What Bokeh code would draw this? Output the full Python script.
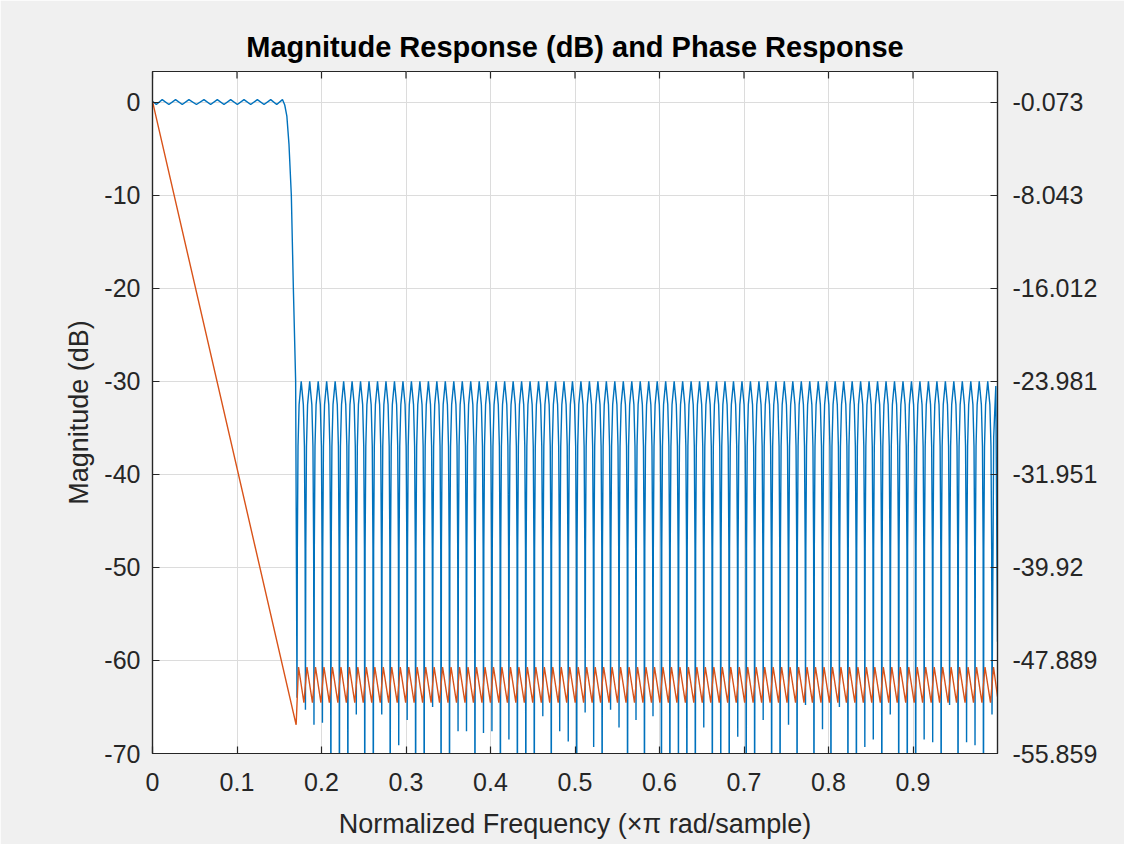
import math
from bokeh.plotting import figure
from bokeh.models import Range1d, LinearAxis, FixedTicker
from bokeh.embed import file_html
from bokeh.resources import INLINE

# ---------------- data ----------------
X_TICKS = [0.0, 0.1, 0.2, 0.3, 0.4, 0.5, 0.6, 0.7, 0.8, 0.9]
X_TICK_LABELS = ["0", "0.1", "0.2", "0.3", "0.4", "0.5", "0.6", "0.7", "0.8", "0.9"]
Y_TICKS = [-70, -60, -50, -40, -30, -20, -10, 0]
Y_TICK_LABELS = ["-70", "-60", "-50", "-40", "-30", "-20", "-10", "0"]
PHASE_TICKS = [-55.859, -47.889, -39.92, -31.951, -23.981, -16.012, -8.043, -0.073]
PHASE_TICK_LABELS = ["-55.859", "-47.889", "-39.92", "-31.951", "-23.981", "-16.012", "-8.043", "-0.073"]

# passband ripple and transition band (magnitude, dB)
MAG_PASS_FREQ = [0.0, 0.0045, 0.0115, 0.0194, 0.0273, 0.0352, 0.0431, 0.0520, 0.0609, 0.0688,
                 0.0767, 0.0846, 0.0925, 0.1004, 0.1083, 0.1162, 0.1241, 0.1320, 0.1399, 0.1470,
                 0.1538, 0.1565, 0.1590, 0.1615, 0.1643, 0.1667, 0.1694]
MAG_PASS_DB = [0.1, -0.25, 0.28, -0.25, 0.28, -0.25, 0.28, -0.25, 0.28, -0.25,
               0.28, -0.25, 0.28, -0.25, 0.28, -0.25, 0.28, -0.25, 0.28, -0.25,
               0.28, -0.3, -1.5, -4.5, -10.0, -20.0, -30.0]

# stopband zeros (frequency of each notch) and depth of each notch (dB)
ZERO_FREQ = [0.1710, 0.1810, 0.1911, 0.2011, 0.2111, 0.2212, 0.2312, 0.2412, 0.2512, 0.2613,
             0.2713, 0.2813, 0.2914, 0.3014, 0.3114, 0.3215, 0.3315, 0.3415, 0.3515, 0.3616,
             0.3716, 0.3816, 0.3917, 0.4017, 0.4117, 0.4218, 0.4318, 0.4418, 0.4518, 0.4619,
             0.4719, 0.4819, 0.4920, 0.5020, 0.5120, 0.5221, 0.5321, 0.5421, 0.5521, 0.5622,
             0.5722, 0.5822, 0.5923, 0.6023, 0.6123, 0.6224, 0.6324, 0.6424, 0.6524, 0.6625,
             0.6725, 0.6825, 0.6926, 0.7026, 0.7126, 0.7227, 0.7327, 0.7427, 0.7527, 0.7628,
             0.7728, 0.7828, 0.7929, 0.8029, 0.8129, 0.8230, 0.8330, 0.8430, 0.8530, 0.8631,
             0.8731, 0.8831, 0.8932, 0.9032, 0.9132, 0.9233, 0.9333, 0.9433, 0.9533, 0.9634,
             0.9734, 0.9834, 0.9935]
DIP_DB = [-64.0, -65.3, -66.9, -66.7, -80, -80, -80, -65.8, -80, -80,
          -65.8, -80, -69.1, -66.4, -80, -80, -65.0, -80, -80, -67.6,
          -67.6, -80, -67.8, -67.6, -80, -68.5, -80, -80, -80, -66.0,
          -80, -67.6, -68.7, -80, -65.6, -69.3, -80, -65.3, -67.2, -80,
          -66.4, -80, -66.0, -80, -80, -75, -80, -80, -67.2, -80,
          -75, -80, -68.2, -80, -80, -66.4, -80, -80, -66.9, -80,
          -64.8, -80, -67.4, -80, -65.0, -80, -80, -69.3, -68.5, -80,
          -65.8, -80, -80, -80, -68.5, -68.8, -80, -64.8, -80, -68.8,
          -69.1, -80, -65.8]
# shape of one stopband lobe: fraction of lobe width vs dB
LOBE_FRAC = [0.04, 0.12, 0.25, 0.5, 0.75, 0.88, 0.96]
LOBE_DB = [-48.0, -37.0, -32.5, -30.0, -32.5, -37.0, -48.0]
MAG_END_FREQ = [0.9955, 0.9980, 1.0]
MAG_END_DB = [-36.0, -30.5, -58.0]

# phase (radians)
PHASE_PASS_FREQ = [0.0, 0.1700]
PHASE_PASS_RAD = [0.0, -53.4]
PHASE_TOOTH_BOTTOM = -51.5
PHASE_TOOTH_TOP = -48.45
PHASE_JUMP_HALF = 0.0018
PHASE_END_FREQ = [1.0]
PHASE_END_RAD = [-51.0]

BLUE = "#0072BD"
ORANGE = "#D95319"
AXC = "#262626"
FONT = "Liberation Sans"

# ---------------- build series ----------------
mag_x = list(MAG_PASS_FREQ)
mag_y = list(MAG_PASS_DB)
for k, z in enumerate(ZERO_FREQ):
    mag_x.append(z)
    mag_y.append(DIP_DB[k])
    if k + 1 < len(ZERO_FREQ):
        zn = ZERO_FREQ[k + 1]
        for t, d in zip(LOBE_FRAC, LOBE_DB):
            mag_x.append(z + t * (zn - z))
            mag_y.append(d)
mag_x += MAG_END_FREQ
mag_y += MAG_END_DB

ph_x = list(PHASE_PASS_FREQ)
ph_y = list(PHASE_PASS_RAD)
for k, z in enumerate(ZERO_FREQ):
    if k > 0:
        ph_x.append(z - PHASE_JUMP_HALF)
        ph_y.append(PHASE_TOOTH_BOTTOM)
    ph_x.append(z + PHASE_JUMP_HALF)
    ph_y.append(PHASE_TOOTH_TOP)
ph_x += PHASE_END_FREQ
ph_y += PHASE_END_RAD

# ---------------- figure ----------------
Y_TOP = 3.3
PH_SCALE = (PHASE_TICKS[-1] - PHASE_TICKS[0]) / (Y_TICKS[-1] - Y_TICKS[0])
PH_TOP = PHASE_TICKS[-1] + Y_TOP * PH_SCALE

p = figure(width=1124, height=844, output_backend="svg", toolbar_location=None,
           x_range=Range1d(0, 1.0), y_range=Range1d(-70, Y_TOP),
           min_border_left=152, min_border_right=127, min_border_top=71, min_border_bottom=91,
           background_fill_color="white", border_fill_color="#f0f0f0")
p.extra_y_ranges = {"phase": Range1d(PHASE_TICKS[0], PH_TOP)}

p.title.text = "Magnitude Response (dB) and Phase Response"
p.title.align = "center"
p.title.text_font = FONT
p.title.text_font_size = "29px"
p.title.text_font_style = "bold"
p.title.text_color = "black"
p.title.standoff = 17

p.outline_line_color = AXC
p.outline_line_width = 1.2
p.outline_line_alpha = 1.0

def style_axis(ax):
    ax.major_tick_in = 7
    ax.major_tick_out = 0
    ax.minor_tick_line_color = None
    ax.axis_line_color = AXC
    ax.axis_line_width = 1.2
    ax.major_tick_line_color = AXC
    ax.major_tick_line_width = 1.2
    ax.major_label_text_font = FONT
    ax.major_label_text_font_size = "25px"
    ax.major_label_text_color = AXC
    ax.axis_label_text_font = FONT
    ax.axis_label_text_font_size = "27px"
    ax.axis_label_text_font_style = "normal"
    ax.axis_label_text_color = AXC

xa = p.xaxis[0]
xa.ticker = FixedTicker(ticks=X_TICKS)
xa.major_label_overrides = {t: s for t, s in zip(X_TICKS, X_TICK_LABELS)}
xa.axis_label = "Normalized Frequency (\u00d7\u03c0 rad/sample)"
style_axis(xa)
xa.major_label_standoff = 19
xa.axis_label_standoff = 15

ya = p.yaxis[0]
ya.ticker = FixedTicker(ticks=Y_TICKS)
ya.major_label_overrides = {t: s for t, s in zip(Y_TICKS, Y_TICK_LABELS)}
ya.axis_label = "Magnitude (dB)"
style_axis(ya)
ya.major_label_standoff = 12
ya.axis_label_standoff = 7

ra = LinearAxis(y_range_name="phase", ticker=FixedTicker(ticks=PHASE_TICKS),
                major_label_overrides={t: s for t, s in zip(PHASE_TICKS, PHASE_TICK_LABELS)})
style_axis(ra)
ra.major_label_standoff = 15
p.add_layout(ra, "right")

p.xgrid.ticker = FixedTicker(ticks=X_TICKS)
p.ygrid.ticker = FixedTicker(ticks=Y_TICKS)
for g in (p.xgrid[0], p.ygrid[0]):
    g.grid_line_color = "#dcdcdc"
    g.grid_line_width = 1

p.line(mag_x, mag_y, line_color=BLUE, line_width=1.4)
p.line(ph_x, ph_y, line_color=ORANGE, line_width=1.4, y_range_name="phase")

# inward tick marks along the top edge of the box, at the x ticks
TOP_TICK_DB = 7 * (Y_TOP + 70) / 682
p.segment(x0=X_TICKS, y0=[Y_TOP] * len(X_TICKS), x1=X_TICKS,
          y1=[Y_TOP - TOP_TICK_DB] * len(X_TICKS), line_color=AXC, line_width=1.2)

open("out.html", "w").write(file_html(p, INLINE))
